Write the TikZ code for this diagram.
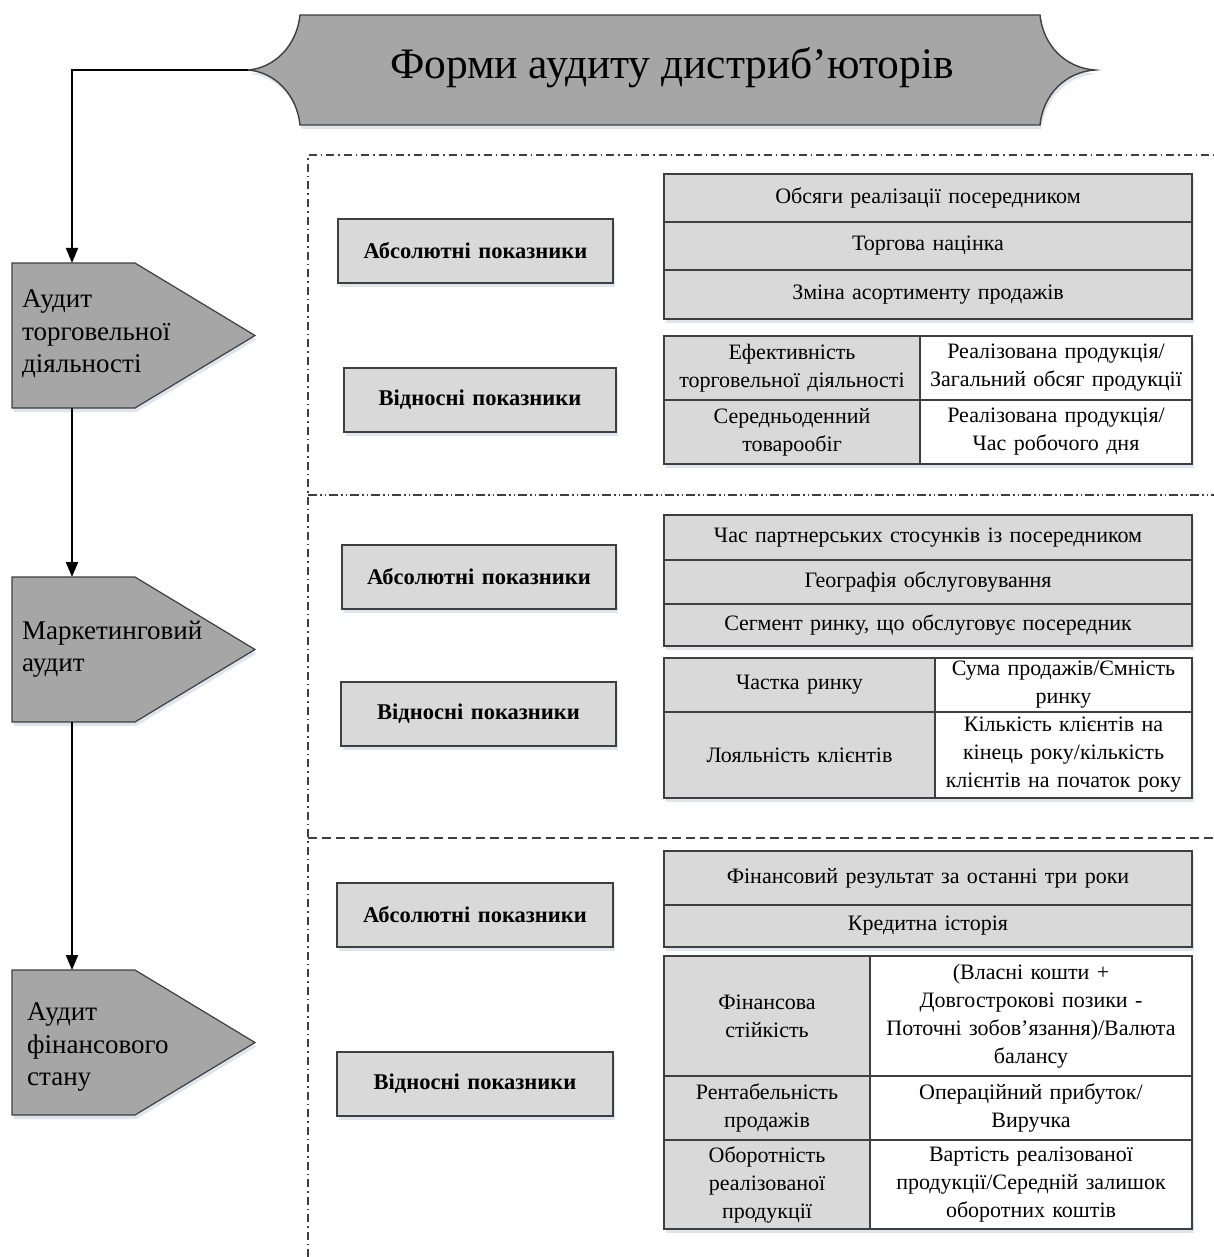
\documentclass[tikz,border=0pt]{standalone}
\usepackage{fontspec}
\setmainfont{Liberation Serif}
\usetikzlibrary{shadows,arrows.meta,calc}
\definecolor{lg}{HTML}{D9D9D9}
\definecolor{dg}{HTML}{A6A6A6}
\definecolor{bd}{HTML}{3F3F3F}
\definecolor{shc}{HTML}{C3D0E2}
\newcommand\mycell[7]{%
  \pgfmathsetmacro\cw{#4-#2}\pgfmathsetmacro\ch{#5-#3}\pgfmathsetmacro\tw{#4-#2-6}%
  \node[#6, minimum width=\cw pt, minimum height=\ch pt, text width=\tw pt] (#1) at ({(#2+#4)/2},{(#3+#5)/2}) {#7};}
\begin{document}
\begin{tikzpicture}[x=1pt,y=-1pt,
  shd/.style={drop shadow={shadow xshift=1.5pt, shadow yshift=-4pt, fill=shc, opacity=0.55}},
  cellbase/.style={draw=bd, line width=1.4pt, inner sep=0pt, outer sep=0pt, align=center,
     font=\fontsize{22}{28}\selectfont, shd},
  graycell/.style={cellbase, fill=lg},
  whitecell/.style={cellbase, fill=white},
  headbox/.style={cellbase, fill=lg, font=\bfseries\fontsize{22.5}{26}\selectfont},
  pent/.style={draw=bd, line width=1.2pt, fill=dg, shd},
  ptext/.style={align=left, anchor=west, inner sep=0pt, font=\fontsize{27}{32.5}\selectfont},
  conn/.style={line width=2pt, -{Triangle[length=15pt,width=12pt]}},
  region/.style={draw=bd, line width=1.4pt}
]
\useasboundingbox (0,0) rectangle (1214,1257);

% Title
\path[pent, line width=1.4pt] (300,15) -- (1040,15)
  .. controls (1043,45) and (1065,68) .. (1095,70)
  .. controls (1065,72) and (1043,95) .. (1040,125)
  -- (300,125)
  .. controls (297,95) and (275,72) .. (248,70)
  .. controls (275,68) and (297,45) .. (300,15) -- cycle;
\node[font=\fontsize{43.5}{50}\selectfont, inner sep=0pt] (title) at (672,68) {Форми аудиту дистриб’юторів};
\coordinate (ttip) at (248,70);

% Pentagons
\path[pent] (12,263) -- (135,263) -- (255,335.5) -- (135,408) -- (12,408) -- cycle;
\path[pent] (12,577) -- (135,577) -- (255,649.5) -- (135,722) -- (12,722) -- cycle;
\path[pent] (12,970) -- (135,970) -- (255,1042.5) -- (135,1115) -- (12,1115) -- cycle;
\node[ptext] (p1) at (22,334) {Аудит\\торговельної\\діяльності};
\node[ptext] (p2) at (22,649) {Маркетинговий\\аудит};
\node[ptext] (p3) at (27,1047) {Аудит\\фінансового\\стану};
\coordinate (p1t) at (72,263);
\coordinate (p1b) at (72,408);
\coordinate (p2t) at (72,577);
\coordinate (p2b) at (72,722);
\coordinate (p3t) at (72,970);

\draw[conn] (ttip) -| (p1t);
\draw[conn] (p1b) -- (p2t);
\draw[conn] (p2b) -- (p3t);

% Regions
\draw[region, dash pattern=on 8pt off 4pt on 1.5pt off 4pt] (308,1257) -- (308,155) -- (1214,155);
\draw[region, dash pattern=on 9pt off 3pt on 1.5pt off 3pt on 1.5pt off 3pt] (308,495) -- (1214,495);
\draw[region, dash pattern=on 9pt off 5pt] (308,838) -- (1214,838);

% Section 1
\mycell{a1}{338}{219}{613}{283}{headbox}{Абсолютні показники}
\mycell{s11}{664}{174}{1192}{222}{graycell}{Обсяги реалізації посередником}
\mycell{s12}{664}{222}{1192}{270}{graycell}{Торгова націнка}
\mycell{s13}{664}{270}{1192}{319}{graycell}{Зміна асортименту продажів}
\mycell{v1}{344}{368}{616}{432}{headbox}{Відносні показники}
\mycell{t11}{664}{336}{920}{400}{graycell}{Ефективність\\торговельної діяльності}
\mycell{t12}{920}{336}{1192}{400}{whitecell}{Реалізована продукція/\\Загальний обсяг продукції}
\mycell{t13}{664}{400}{920}{464}{graycell}{Середньоденний\\товарообіг}
\mycell{t14}{920}{400}{1192}{464}{whitecell}{Реалізована продукція/\\Час робочого дня}

% Section 2
\mycell{a2}{342}{545}{616}{609}{headbox}{Абсолютні показники}
\mycell{s21}{664}{515}{1192}{560}{graycell}{Час партнерських стосунків із посередником}
\mycell{s22}{664}{560}{1192}{604}{graycell}{Географія обслуговування}
\mycell{s23}{664}{604}{1192}{646}{graycell}{Сегмент ринку, що обслуговує посередник}
\mycell{v2}{341}{682}{616}{746}{headbox}{Відносні показники}
\mycell{t21}{664}{658}{935}{712}{graycell}{Частка ринку}
\mycell{t22}{935}{658}{1192}{712}{whitecell}{Сума продажів/Ємність\\ринку}
\mycell{t23}{664}{712}{935}{798}{graycell}{Лояльність клієнтів}
\mycell{t24}{935}{712}{1192}{798}{whitecell}{Кількість клієнтів на\\кінець року/кількість\\клієнтів на початок року}

% Section 3
\mycell{a3}{337}{883}{613}{947}{headbox}{Абсолютні показники}
\mycell{s31}{664}{851}{1192}{905}{graycell}{Фінансовий результат за останні три роки}
\mycell{s32}{664}{905}{1192}{947}{graycell}{Кредитна історія}
\mycell{v3}{337}{1052}{613}{1116}{headbox}{Відносні показники}
\mycell{t31}{664}{956}{870}{1076}{graycell}{Фінансова\\стійкість}
\mycell{t32}{870}{956}{1192}{1076}{whitecell}{(Власні кошти +\\Довгострокові позики -\\Поточні зобов’язання)/Валюта\\балансу}
\mycell{t33}{664}{1076}{870}{1140}{graycell}{Рентабельність\\продажів}
\mycell{t34}{870}{1076}{1192}{1140}{whitecell}{Операційний прибуток/\\Виручка}
\mycell{t35}{664}{1140}{870}{1229}{graycell}{Оборотність\\реалізованої\\продукції}
\mycell{t36}{870}{1140}{1192}{1229}{whitecell}{Вартість реалізованої\\продукції/Середній залишок\\оборотних коштів}
\end{tikzpicture}
\end{document}
